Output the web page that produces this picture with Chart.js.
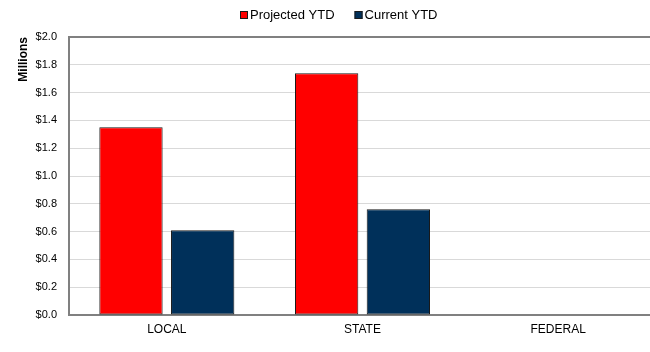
<!DOCTYPE html>
<html lang="en">
<head>
  <meta charset="UTF-8" />
  <title>Projected vs Current YTD</title>
  <script src="https://cdn.jsdelivr.net/npm/chart.js"></script>
  <style>
    html, body { margin: 0; padding: 0; background: #fff; overflow: hidden; }
    #wrap { width: 650px; height: 352px; overflow: hidden; }
  </style>
</head>
<body>
  <div id="wrap"><canvas id="ytdChart" width="657" height="352"></canvas></div>
  <script>
    // Funding sources and YTD amounts, in millions of dollars
    const categories = ["LOCAL", "STATE", "FEDERAL"];
    const projectedYTD = [1.35, 1.74, 0];
    const currentYTD = [0.61, 0.76, 0];
    const seriesNames = ["Projected YTD", "Current YTD"];

    const axisGray = "#808080";
    const gridGray = "#d9d9d9";
    const font = "'Liberation Sans', Arial, sans-serif";

    Chart.defaults.font.family = font;
    Chart.defaults.color = "#000";

    // dark frame line along the top of the plot area
    const topBorder = {
      id: "topBorder",
      afterDatasetsDraw(chart) {
        const { ctx, chartArea } = chart;
        ctx.save();
        ctx.strokeStyle = axisGray;
        ctx.lineWidth = 2;
        ctx.beginPath();
        ctx.moveTo(chartArea.left, chartArea.top);
        ctx.lineTo(chartArea.right, chartArea.top);
        ctx.stroke();
        ctx.restore();
      }
    };

    // compact legend: small square swatch right next to the label
    const compactLegend = {
      id: "compactLegend",
      afterDraw(chart) {
        const { ctx } = chart;
        ctx.save();
        ctx.font = "13px " + font;
        ctx.textBaseline = "middle";
        let x = 240;
        const y = 15;
        chart.data.datasets.forEach(ds => {
          ctx.fillStyle = ds.backgroundColor;
          ctx.fillRect(x, y - 4, 8, 8);
          ctx.strokeStyle = "#1a1a1a";
          ctx.lineWidth = 1;
          ctx.strokeRect(x + 0.5, y - 3.5, 7, 7);
          ctx.fillStyle = "#000";
          ctx.fillText(ds.label, x + 10, y);
          x += 10 + ctx.measureText(ds.label).width + 20;
        });
        ctx.restore();
      }
    };

    new Chart(document.getElementById("ytdChart"), {
      type: "bar",
      data: {
        labels: categories,
        datasets: [
          {
            label: seriesNames[0],
            data: projectedYTD,
            backgroundColor: "#ff0000",
            borderColor: "#1a1a1a",
            borderWidth: 1,
            borderSkipped: false
          },
          {
            label: seriesNames[1],
            data: currentYTD,
            backgroundColor: "#00305a",
            borderColor: "#1a1a1a",
            borderWidth: 1,
            borderSkipped: false
          }
        ]
      },
      options: {
        responsive: false,
        animation: false,
        categoryPercentage: 0.733,
        barPercentage: 0.883,
        layout: { padding: { left: 0, right: 1, top: 37, bottom: 0 } },
        plugins: {
          tooltip: { enabled: false },
          legend: { display: false }
        },
        scales: {
          x: {
            grid: { display: false, drawTicks: false },
            border: { color: axisGray, width: 2 },
            ticks: { font: { size: 12 }, padding: 7 },
            afterFit(scale) { scale.height = 37; }
          },
          y: {
            min: 0,
            max: 2,
            grid: {
              color: ctx => ctx.tick && ctx.tick.value === 2 ? "rgba(0,0,0,0)" : gridGray,
              lineWidth: 1,
              drawTicks: false
            },
            border: { color: axisGray, width: 2 },
            ticks: {
              stepSize: 0.2,
              font: { size: 11 },
              padding: 12,
              callback: v => "$" + Number(v).toFixed(1)
            },
            title: {
              display: true,
              text: "Millions",
              align: "end",
              font: { size: 12, weight: "bold" },
              padding: { top: 16, bottom: 0 }
            },
            afterFit(scale) { scale.width = 69; }
          }
        }
      },
      plugins: [topBorder, compactLegend]
    });
  </script>
</body>
</html>
